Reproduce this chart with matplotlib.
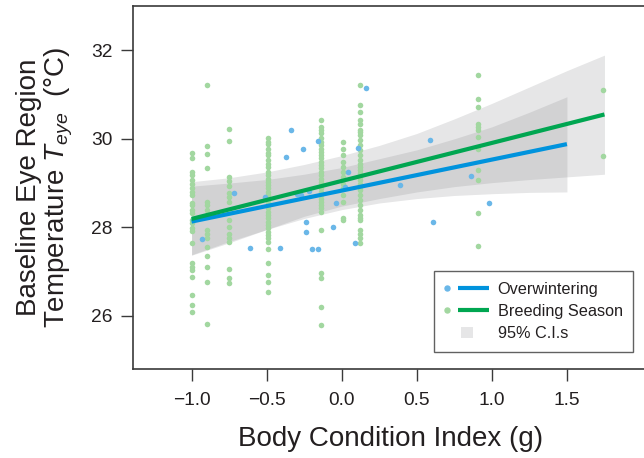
import numpy as np
import matplotlib
matplotlib.use("Agg")
import matplotlib.pyplot as plt
from matplotlib.lines import Line2D
from matplotlib.patches import Patch, Rectangle
from matplotlib.legend_handler import HandlerBase

plt.rcParams['font.family'] = ['Liberation Sans', 'DejaVu Sans']
plt.rcParams['mathtext.fontset'] = 'custom'
plt.rcParams['mathtext.rm'] = 'Liberation Sans'
plt.rcParams['mathtext.it'] = 'Liberation Sans:italic'

# --- breeding season points, one list per body-condition column ---
green_cols_x = [-1.0, -0.9, -0.75, -0.49, -0.14, 0.01, 0.12, 0.91, 1.74]
g_m100 = [29.68, 29.57, 29.26, 29.18, 29.08, 28.99, 28.88, 28.80, 28.73, 28.54,
          28.50, 28.39, 28.32, 28.16, 28.09, 27.98, 27.92, 27.65, 27.19, 27.11,
          27.04, 26.88, 26.47, 26.24, 26.09]
g_m090 = [31.22, 29.84, 29.66, 29.35, 28.58, 28.50, 28.39, 28.28, 27.94, 27.86,
          27.75, 27.56, 27.36, 27.10, 26.77, 25.82]
g_m075 = [30.23, 29.95, 29.14, 29.05, 28.94, 28.78, 28.69, 28.58, 28.16, 28.01,
          27.86, 27.75, 27.67, 27.05, 26.85, 26.74]
g_m050 = [30.01, 29.93, 29.88, 29.78, 29.68, 29.63, 29.52, 29.44, 29.37, 29.26,
          29.18, 29.10, 29.03, 28.95, 28.88, 28.80, 28.73, 28.65, 28.58, 28.50,
          28.43, 28.35, 28.28, 28.20, 28.13, 28.05, 27.98, 27.90, 27.83, 27.75,
          27.68, 27.52, 27.19, 26.92, 26.76, 26.53]
g_m015 = [30.42, 30.27, 30.20, 30.12, 30.01, 29.93, 29.86, 29.78, 29.71, 29.63,
          29.56, 29.48, 29.41, 29.33, 29.26, 29.18, 29.10, 29.03, 28.95, 28.88,
          28.80, 28.73, 28.65, 28.58, 28.50, 28.43, 28.35, 27.94, 26.96, 26.85,
          26.21, 25.80]
g_p001 = [29.93, 29.78, 29.63, 29.48, 29.37, 29.26, 29.14, 28.99, 28.88, 28.73,
          28.58, 28.22, 28.17]
g_p012 = [31.21, 30.76, 30.61, 30.42, 30.34, 30.20, 30.16, 30.08, 29.97, 29.86,
          29.74, 29.63, 29.52, 29.44, 29.37, 29.29, 29.22, 29.14, 29.07, 28.99,
          28.92, 28.84, 28.73, 28.62, 28.50, 28.39, 28.28, 28.20, 28.16, 27.94,
          27.86, 27.75, 27.64]
g_p091 = [31.44, 30.90, 30.72, 30.33, 30.26, 30.20, 30.03, 29.78, 29.29, 29.08,
          28.32, 27.58]
g_p174 = [31.11, 29.62]

# --- overwintering points ---
blue_x = [-0.93, -0.72, -0.61, -0.51, -0.41, -0.37, -0.34, -0.30, -0.27, -0.26,
          -0.24, -0.24, -0.22, -0.20, -0.16, -0.16, -0.06, -0.04, 0.02, 0.04,
          0.09, 0.11, 0.16, 0.39, 0.59, 0.61, 0.86, 0.98]
blue_y = [27.73, 28.78, 27.54, 28.69, 27.53, 29.59, 30.19, 28.75, 28.73, 29.76,
          28.11, 27.89, 28.81, 27.50, 29.96, 27.50, 28.01, 28.56, 28.92, 29.24,
          27.65, 29.80, 31.14, 28.96, 29.97, 28.11, 29.17, 28.56]

# --- fitted lines ---
blue_fit_x = [-1.0, 1.5]
blue_fit_y = [28.13, 29.88]
green_fit_x = [-1.0, 1.75]
green_fit_y = [28.19, 30.55]

# --- 95% confidence bands ---
blue_ci_x = [-1.0, -0.75, -0.5, -0.25, 0.0, 0.25, 0.5, 0.75, 1.0, 1.25, 1.5]
blue_ci_lo = [27.38, 27.68, 27.95, 28.20, 28.40, 28.55, 28.65, 28.72, 28.76, 28.79, 28.80]
blue_ci_hi = [28.93, 29.00, 29.08, 29.20, 29.35, 29.55, 29.75, 30.00, 30.27, 30.60, 30.95]
green_ci_x = [-1.0, -0.75, -0.5, -0.25, 0.0, 0.25, 0.5, 0.75, 1.0, 1.25, 1.5, 1.75]
green_ci_lo = [27.37, 27.65, 27.95, 28.25, 28.48, 28.65, 28.80, 28.92, 29.01, 29.08, 29.14, 29.20]
green_ci_hi = [29.03, 29.12, 29.25, 29.42, 29.62, 29.85, 30.12, 30.45, 30.80, 31.17, 31.54, 31.89]

C_BLUE_PT = '#6ab7e8'
C_GREEN_PT = '#a2d7a0'
C_BLUE = '#0093dd'
C_GREEN = '#00a651'
C_BAND = '#828387'
C_TEXT = '#231f20'
C_FRAME = '#3a3a3a'


class DotLineHandler(HandlerBase):
    def create_artists(self, legend, orig_handle, xdescent, ydescent,
                       width, height, fontsize, trans):
        pt_color, ln_color = orig_handle
        y = height / 2 - ydescent
        x0 = -xdescent
        dot = Line2D([x0 + 0.06 * width], [y], marker='o', ms=3.6,
                     color=pt_color, ls='none', transform=trans)
        ln = Line2D([x0 + 0.3 * width, x0 + width], [y, y], color=ln_color,
                    lw=3, solid_capstyle='butt', transform=trans)
        return [dot, ln]


class SquareHandler(HandlerBase):
    def create_artists(self, legend, orig_handle, xdescent, ydescent,
                       width, height, fontsize, trans):
        s = height * 1.0
        r = Rectangle((-xdescent + 0.38 * width, -ydescent + (height - s) / 2), s, s,
                      facecolor=C_BAND, alpha=0.2, edgecolor='none', transform=trans)
        return [r]


fig = plt.figure(figsize=(6.44, 4.58), dpi=100)
ax = fig.add_axes([133 / 644, 1 - 369 / 458, 515 / 644, 363 / 458])

ax.fill_between(green_ci_x, green_ci_lo, green_ci_hi, color=C_BAND, alpha=0.2,
                lw=0, zorder=1)
ax.fill_between(blue_ci_x, blue_ci_lo, blue_ci_hi, color=C_BAND, alpha=0.2,
                lw=0, zorder=1)

green_lists = [g_m100, g_m090, g_m075, g_m050, g_m015, g_p001, g_p012, g_p091, g_p174]
gx = np.concatenate([np.full(len(v), x) for x, v in zip(green_cols_x, green_lists)])
gy = np.concatenate(green_lists)
ax.scatter(gx, gy, s=16, color=C_GREEN_PT, lw=0, zorder=2)
ax.scatter(blue_x, blue_y, s=16, color=C_BLUE_PT, lw=0, zorder=3)

ax.plot(blue_fit_x, blue_fit_y, color=C_BLUE, lw=3, solid_capstyle='butt', zorder=4)
ax.plot(green_fit_x, green_fit_y, color=C_GREEN, lw=3, solid_capstyle='butt', zorder=5)

ax.set_xlim(-1.39, 2.04)
ax.set_ylim(24.8, 33.0)
ax.set_xticks([-1.0, -0.5, 0.0, 0.5, 1.0, 1.5])
ax.set_xticklabels(['\u22121.0', '\u22120.5', '0.0', '0.5', '1.0', '1.5'])
ax.set_yticks([26, 28, 30, 32])
ax.tick_params(direction='out', length=8.6, width=1, color=C_FRAME,
               labelsize=13.8, labelcolor=C_TEXT)
ax.tick_params(axis='x', pad=8)
ax.tick_params(axis='y', pad=6)
for sp in ax.spines.values():
    sp.set_color(C_FRAME)
    sp.set_linewidth(1.2)

ax.set_xlabel('Body Condition Index (g)', fontsize=20, color=C_TEXT, labelpad=12)
ax.set_ylabel('Baseline Eye Region\nTemperature $T_{eye}$  (\u00b0C)', fontsize=20,
              color=C_TEXT, labelpad=12, linespacing=1.0)

ci_patch = Patch(facecolor=C_BAND, alpha=0.2)
handles = [(C_BLUE_PT, C_BLUE), (C_GREEN_PT, C_GREEN), ci_patch]
labels = ['Overwintering', 'Breeding Season', '95% C.I.s']
leg = ax.legend(handles, labels, loc='lower right', bbox_to_anchor=(0.971, 0.047),
                borderaxespad=0, fontsize=11.7, frameon=True, fancybox=False,
                handlelength=2.7, handletextpad=0.55, labelspacing=0.45,
                borderpad=0.65,
                handler_map={tuple: DotLineHandler(), ci_patch: SquareHandler()})
leg.get_frame().set_edgecolor(C_FRAME)
leg.get_frame().set_linewidth(1.0)
for t in leg.get_texts():
    t.set_color(C_TEXT)

fig.savefig('out.png', dpi=100)
